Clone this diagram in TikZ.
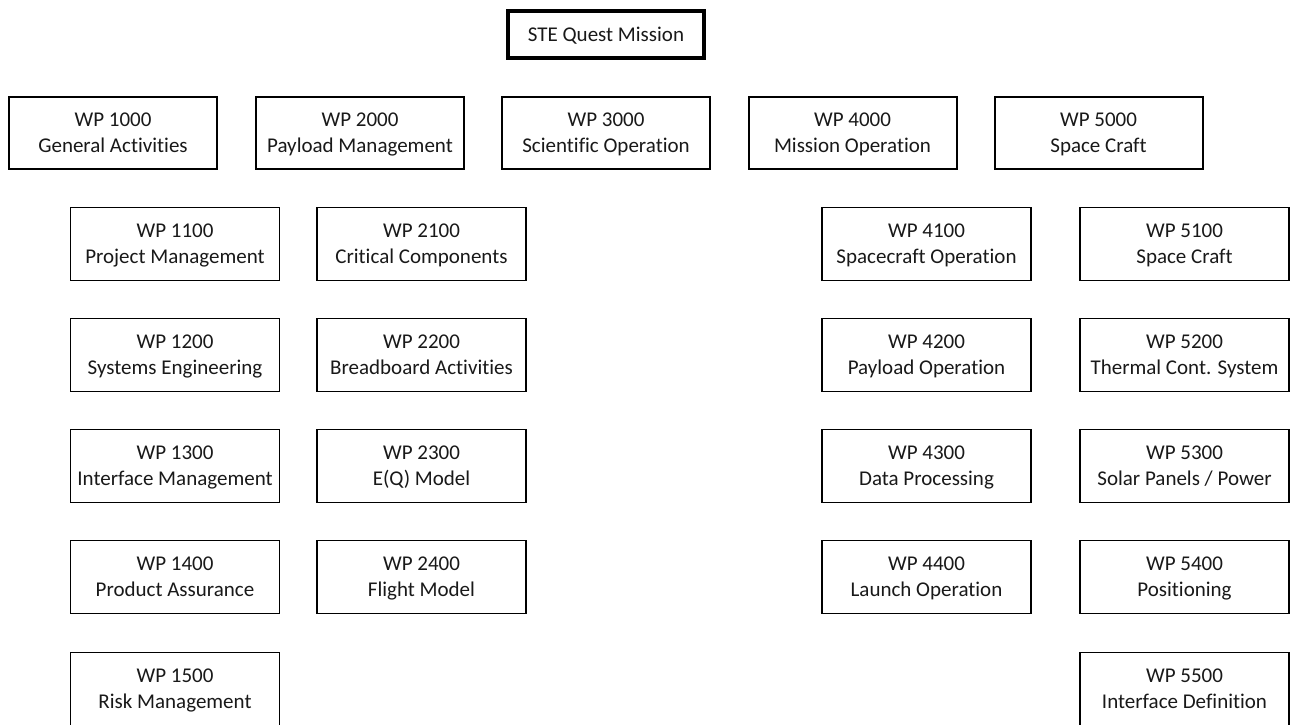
\documentclass[tikz,border=0pt]{standalone}
\usepackage{fontspec}
\setmainfont{Carlito}[Ligatures=NoCommon]
\begin{document}
\begin{tikzpicture}[x=1pt,y=-1pt,
  every node/.style={align=center, text=black!90, font=\fontsize{21}{26}\selectfont, inner sep=0pt, text depth=0pt},
  rootbox/.style={draw, line width=4pt, minimum width=196pt, minimum height=47pt},
  wpbox/.style={draw, line width=2pt, minimum width=208pt, minimum height=72pt},
  subbox/.style={draw, line width=1.2pt, minimum width=209pt, minimum height=73pt}]
\clip (0,0) rectangle (1290,724);
\useasboundingbox (0,0) rectangle (1290,724);
\fill[white] (0,0) rectangle (1290,724);

% mission
\node[rootbox] (root) at (606,34.5) {STE Quest Mission};

% level 1 work packages
\node[wpbox] (wp1000) at (113,133)   {WP 1000\\General Activities};
\node[wpbox] (wp2000) at (360,133)   {WP 2000\\Payload Management};
\node[wpbox] (wp3000) at (606,133)   {WP 3000\\Scientific Operation};
\node[wpbox] (wp4000) at (852.5,133) {WP 4000\\Mission Operation};
\node[wpbox] (wp5000) at (1098.5,133){WP 5000\\Space Craft};

% WP 1000 breakdown
\node[subbox] (wp1100) at (175,244) {WP 1100\\Project Management};
\node[subbox] (wp1200) at (175,355) {WP 1200\\Systems Engineering};
\node[subbox] (wp1300) at (175,466) {WP 1300\\Interface Management};
\node[subbox] (wp1400) at (175,577) {WP 1400\\Product Assurance};
\node[subbox] (wp1500) at (175,689) {WP 1500\\Risk Management};

% WP 2000 breakdown
\node[subbox] (wp2100) at (421.5,244) {WP 2100\\Critical Components};
\node[subbox] (wp2200) at (421.5,355) {WP 2200\\Breadboard Activities};
\node[subbox] (wp2300) at (421.5,466) {WP 2300\\E(Q) Model};
\node[subbox] (wp2400) at (421.5,577) {WP 2400\\Flight Model};

% WP 4000 breakdown
\node[subbox] (wp4100) at (926.5,244) {WP 4100\\Spacecraft Operation};
\node[subbox] (wp4200) at (926.5,355) {WP 4200\\Payload Operation};
\node[subbox] (wp4300) at (926.5,466) {WP 4300\\Data Processing};
\node[subbox] (wp4400) at (926.5,577) {WP 4400\\Launch Operation};

% WP 5000 breakdown
\node[subbox] (wp5100) at (1184.5,244) {WP 5100\\Space Craft};
\node[subbox] (wp5200) at (1184.5,355) {WP 5200\\Thermal Cont. System};
\node[subbox] (wp5300) at (1184.5,466) {WP 5300\\Solar Panels / Power};
\node[subbox] (wp5400) at (1184.5,577) {WP 5400\\Positioning};
\node[subbox] (wp5500) at (1184.5,689) {WP 5500\\Interface Definition};
\end{tikzpicture}
\end{document}
